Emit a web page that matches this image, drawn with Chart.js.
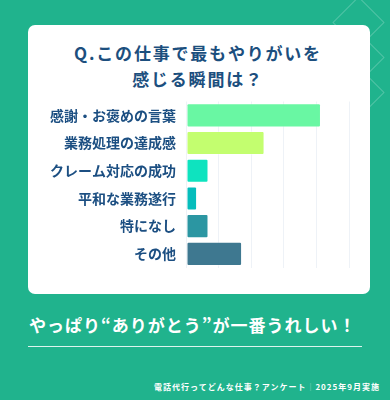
<!DOCTYPE html>
<html lang="ja">
<head>
<meta charset="utf-8">
<script src="https://cdn.jsdelivr.net/npm/chart.js@4"></script>
<style>
  html, body { margin: 0; padding: 0; }
  body {
    width: 390px; height: 400px; overflow: hidden; position: relative;
    background: #20b38d;
    font-family: "Noto Sans CJK JP", "Noto Sans", sans-serif;
  }
  .deco {
    position: absolute; width: 35px; height: 35px;
    border: 1px solid rgba(255,255,255,0.22);
    transform: rotate(45deg);
  }
  .card {
    position: absolute; left: 28px; top: 25px; width: 342px; height: 269px;
    background: #fff; border-radius: 7px;
  }
  .title {
    position: absolute; left: 0; top: 40px; width: 396px; text-align: center;
    color: #1c4f7e; font-weight: 700; font-size: 17px; line-height: 26px;
    letter-spacing: 1.8px;
  }
  .chart-box { position: absolute; left: 28px; top: 98px; width: 342px; height: 172px; }
  .catch {
    position: absolute; left: 29px; top: 312px; width: 340px;
    color: #fff; font-weight: 700; font-size: 17px; letter-spacing: 1px; line-height: 26px;
  }
  .rule { position: absolute; left: 28px; top: 346px; width: 334px; height: 1px; background: rgba(255,255,255,0.85); }
  .foot {
    position: absolute; right: 10px; top: 381px;
    color: #fff; font-weight: 700; font-size: 8px; letter-spacing: 1px; line-height: 12px;
  }
  .foot .bar { opacity: 0.5; font-weight: 400; }
</style>
</head>
<body>
<div class="deco" style="left:340px; top:4px;"></div>
<div class="deco" style="left:340px; top:39px;"></div>
<div class="deco" style="left:340px; top:74px;"></div>

<div class="card"></div>
<div class="title">Q.この仕事で最もやりがいを<br>感じる瞬間は？</div>
<div class="chart-box"><canvas id="answerChart"></canvas></div>

<div class="catch">やっぱり“ありがとう”が一番うれしい！</div>
<div class="rule"></div>
<div class="foot">電話代行ってどんな仕事？アンケート<span class="bar">｜</span>2025年9月実施</div>

<script>
// 回答項目と割合(%)
const categories = ['感謝・お褒めの言葉', '業務処理の達成感', 'クレーム対応の成功', '平和な業務遂行', '特になし', 'その他'];
const values = [41.4, 24.1, 6.9, 3.4, 6.9, 17.2];
const barColors = ['#69f7a3', '#c3fe6f', '#0ee3bf', '#05bdbc', '#2b96a2', '#3e7890'];
const xTicks = [0, 10, 20, 30, 40, 50];

const ctx = document.getElementById('answerChart').getContext('2d');
new Chart(ctx, {
    type: 'bar',
    data: {
        labels: categories,
        datasets: [{
            data: values,
            backgroundColor: barColors,
            borderColor: 'rgba(255,255,255,0.35)',
            borderWidth: 1,
            borderRadius: 2,
            borderSkipped: false,
            barPercentage: 0.87,
            categoryPercentage: 1
        }]
    },
    options: {
        indexAxis: 'y',
        responsive: true,
        maintainAspectRatio: false,
        animation: false,
        layout: { padding: { top: 3.5, right: 21, bottom: 2.3, left: 0 } },
        plugins: { legend: { display: false }, tooltip: { enabled: false } },
        scales: {
            x: {
                min: xTicks[0],
                max: xTicks[xTicks.length - 1],
                afterBuildTicks: (axis) => { axis.ticks = xTicks.map(v => ({ value: v })); },
                ticks: { display: false },
                border: { display: false },
                grid: { color: '#eef2f7', drawTicks: false }
            },
            y: {
                // 幅固定・ラベル分の上下余白はなし
                afterFit: (axis) => {
                    axis.width = 158;
                    axis.paddingTop = 0;
                    axis.paddingBottom = 0;
                },
                grid: { display: false, drawTicks: false },
                border: { display: false },
                ticks: {
                    padding: 10,
                    color: '#1c4f82',
                    font: { family: '"Noto Sans CJK JP"', size: 14, weight: 'bold' }
                }
            }
        }
    }
});
</script>
</body>
</html>
